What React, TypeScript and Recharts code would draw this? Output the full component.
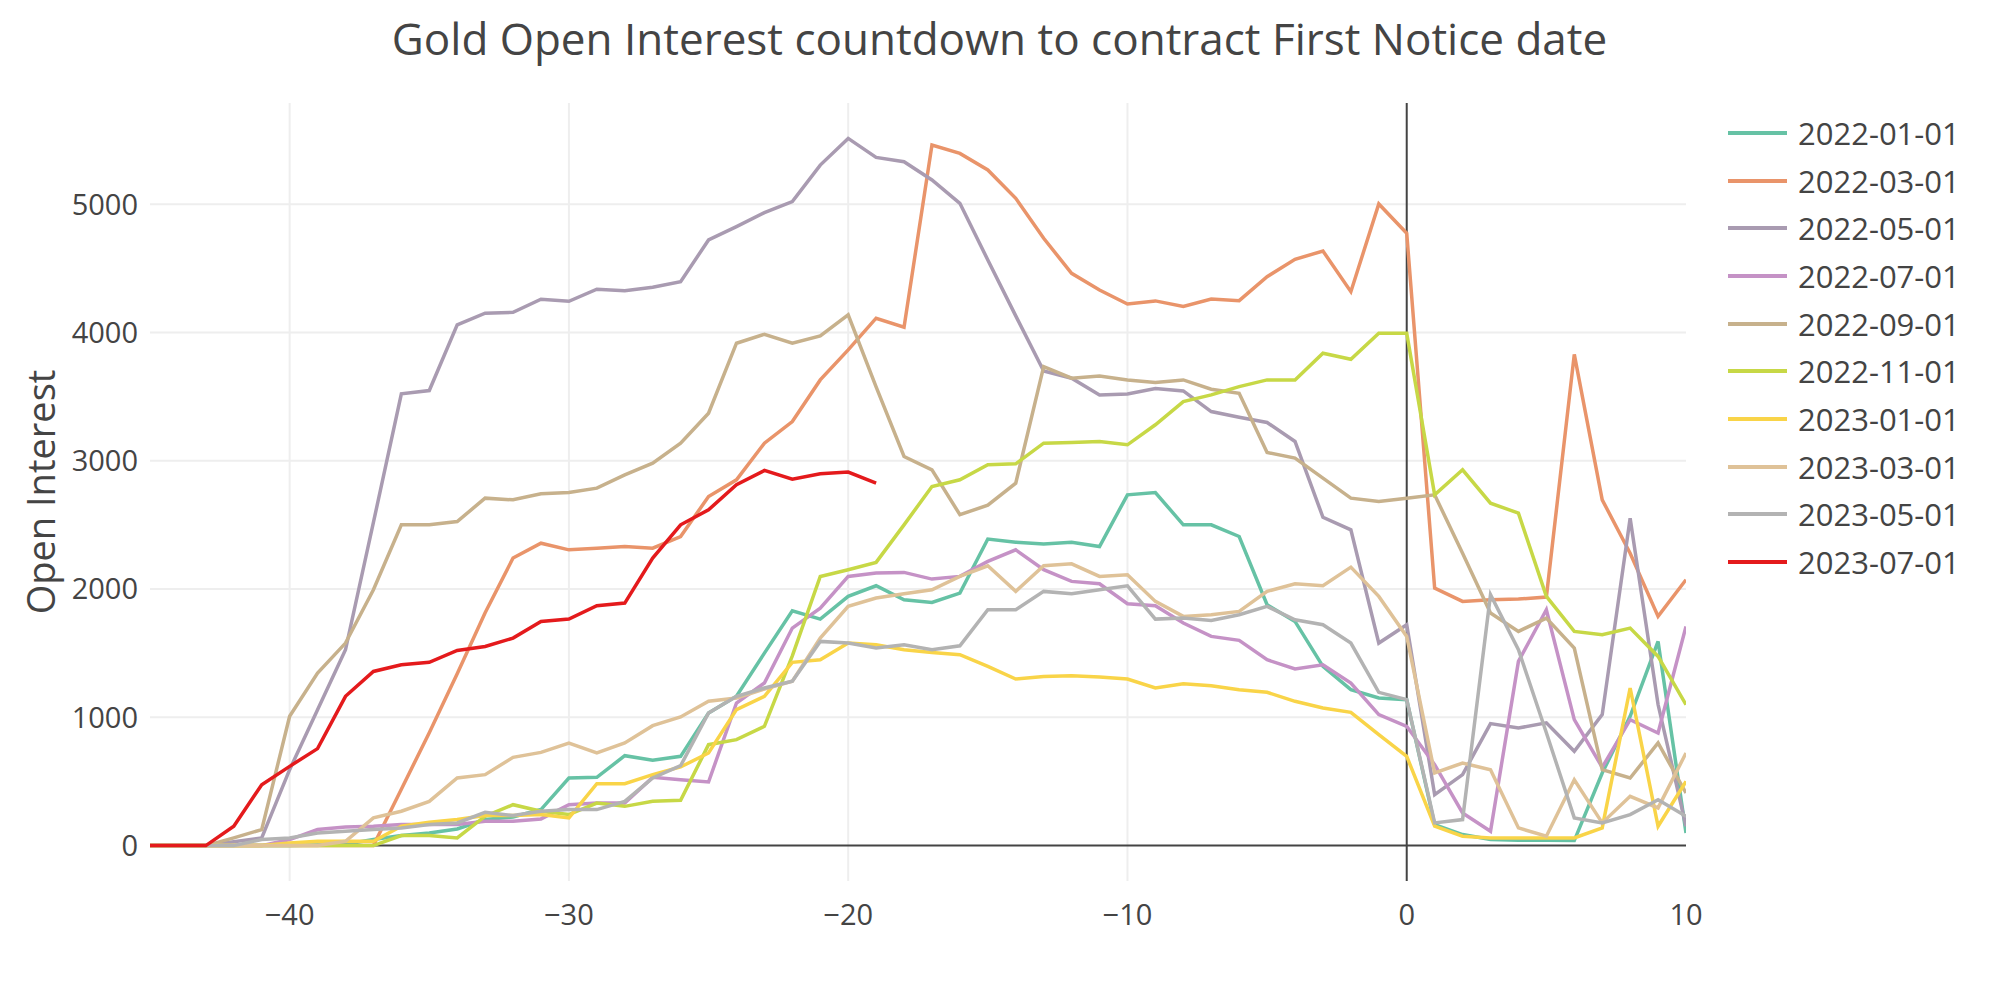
import { LineChart, Line, XAxis, YAxis, CartesianGrid, ReferenceLine } from 'recharts'

// days relative to First Notice date
const days = [
  -45, -44, -43, -42, -41, -40, -39, -38, -37, -36,
  -35, -34, -33, -32, -31, -30, -29, -28, -27, -26,
  -25, -24, -23, -22, -21, -20, -19, -18, -17, -16,
  -15, -14, -13, -12, -11, -10, -9, -8, -7, -6,
  -5, -4, -3, -2, -1, 0, 1, 2, 3, 4,
  5, 6, 7, 8, 9, 10,
]

const contracts = [
  '2022-01-01', '2022-03-01', '2022-05-01', '2022-07-01', '2022-09-01',
  '2022-11-01', '2023-01-01', '2023-03-01', '2023-05-01', '2023-07-01',
]

const COLORS = [
  '#66c2a5', '#e9946a', '#a99bb1', '#c592c6', '#c7b18c',
  '#c7d846', '#f9d448', '#dfc298', '#b3b3b3', '#e41a1c',
]

const jan22 = [
  0, 0, 0, 0, 0, 0, 5, 10, 47, 78,
  99, 130, 203, 223, 281, 527, 532, 701, 665, 696,
  1034, 1164, 1501, 1831, 1766, 1943, 2026, 1917, 1896, 1969,
  2390, 2366, 2351, 2366, 2332, 2735, 2753, 2501, 2501, 2410,
  1878, 1748, 1397, 1216, 1151, 1138, 164, 86, 47, 42,
  42, 39, 566, 1008, 1592, 99,
]
const mar22 = [
  0, 0, 0, 0, 0, 0, 0, 0, 0, 440,
  880, 1340, 1815, 2242, 2358, 2306, 2319, 2332, 2319, 2410,
  2722, 2852, 3138, 3306, 3631, 3865, 4112, 4042, 5462, 5397,
  5268, 5047, 4735, 4462, 4332, 4223, 4247, 4203, 4262, 4249,
  4436, 4571, 4636, 4319, 5003, 4774, 2008, 1904, 1917, 1922,
  1938, 3830, 2696, 2280, 1787, 2073,
]
const may22 = [
  0, 0, 0, 30, 60, 592, 1060, 1527, 2520, 3522,
  3548, 4060, 4151, 4158, 4260, 4244, 4338, 4327, 4353, 4397,
  4722, 4826, 4935, 5021, 5306, 5514, 5366, 5332, 5190, 5008,
  4566, 4130, 3700, 3644, 3514, 3522, 3564, 3545, 3384, 3340,
  3299, 3151, 2560, 2462, 1579, 1722, 397, 553, 951, 917,
  957, 735, 1021, 2553, 1100, 150,
]
const jul22 = [
  0, 0, 0, 0, 0, 47, 125, 145, 151, 164,
  164, 164, 190, 190, 208, 319, 332, 332, 532, 514,
  496, 1112, 1268, 1696, 1852, 2099, 2125, 2130, 2078, 2099,
  2216, 2306, 2151, 2060, 2042, 1886, 1870, 1735, 1631, 1600,
  1449, 1377, 1410, 1268, 1021, 930, 631, 255, 112, 1436,
  1839, 982, 610, 982, 878, 1709,
]
const sep22 = [
  0, 0, 0, 60, 125, 1008, 1345, 1579, 1995, 2501,
  2501, 2527, 2709, 2696, 2743, 2753, 2787, 2891, 2982, 3138,
  3371, 3917, 3987, 3917, 3974, 4138, 3577, 3034, 2930, 2580,
  2654, 2826, 3735, 3644, 3662, 3631, 3610, 3631, 3558, 3527,
  3065, 3021, 2865, 2709, 2683, 2709, 2735, 2280, 1813, 1670,
  1774, 1540, 592, 527, 800, 410,
]
const nov22 = [
  0, 0, 0, 0, 0, 0, 0, 0, 0, 78,
  78, 60, 229, 319, 268, 242, 332, 306, 345, 353,
  787, 826, 930, 1480, 2098, 2151, 2208, 2501, 2800, 2852,
  2969, 2977, 3138, 3143, 3151, 3125, 3281, 3462, 3514, 3579,
  3631, 3631, 3839, 3792, 3995, 3995, 2735, 2930, 2670, 2592,
  1943, 1670, 1644, 1696, 1475, 1099,
]
const jan23 = [
  0, 0, 0, 0, 0, 20, 34, 34, 34, 151,
  182, 203, 234, 234, 242, 216, 483, 483, 553, 613,
  722, 1060, 1164, 1429, 1449, 1579, 1566, 1527, 1506, 1488,
  1397, 1299, 1319, 1325, 1314, 1299, 1229, 1262, 1247, 1216,
  1195, 1125, 1073, 1039, 865, 696, 151, 73, 60, 60,
  60, 60, 138, 1229, 151, 501,
]
const mar23 = [
  0, 0, 0, 0, 0, 0, 0, 34, 216, 268,
  345, 527, 553, 688, 727, 800, 722, 800, 935, 1003,
  1125, 1151, 1221, 1281, 1618, 1865, 1930, 1964, 1995, 2099,
  2182, 1982, 2182, 2197, 2099, 2112, 1904, 1787, 1800, 1826,
  1982, 2042, 2026, 2171, 1943, 1631, 566, 644, 592, 138,
  73, 514, 177, 384, 294, 722,
]
const may23 = [
  0, 0, 0, 0, 47, 60, 99, 112, 125, 138,
  164, 177, 260, 234, 268, 281, 281, 345, 527, 623,
  1034, 1164, 1229, 1281, 1592, 1579, 1540, 1566, 1527, 1558,
  1839, 1839, 1982, 1964, 1995, 2026, 1766, 1774, 1756, 1800,
  1865, 1761, 1722, 1579, 1195, 1138, 177, 203, 1956, 1527,
  880, 216, 177, 242, 358, 229,
]
// current contract, only up to day -19
const jul23 = [
  0, 0, 0, 151, 475, 618, 756, 1164, 1358, 1410,
  1429, 1522, 1553, 1618, 1748, 1766, 1870, 1891, 2242, 2501,
  2618, 2813, 2925, 2857, 2899, 2912, 2826,
]

const seriesValues = [jan22, mar22, may22, jul22, sep22, nov22, jan23, mar23, may23, jul23]

const data = days.map((day, i) => {
  const row: Record<string, number | null> = { day }
  contracts.forEach((c, j) => {
    const v = seriesValues[j][i]
    row[c] = v === undefined ? null : v
  })
  return row
})

const FONT = '"Open Sans", "Noto Sans", sans-serif'
const TEXT = '#444'

function formatTick(v: number): string {
  return v < 0 ? `\u2212${Math.abs(v)}` : String(v)
}

export default function App() {
  return (
    <div style={{ position: 'absolute', left: 0, top: 0, width: 1999, height: 1000, background: '#fff', fontFamily: FONT }}>
      <div
        style={{
          position: 'absolute',
          top: 12,
          left: 0,
          width: 1999,
          textAlign: 'center',
          fontSize: 44,
          lineHeight: '52px',
          color: TEXT,
        }}
      >
        Gold Open Interest countdown to contract First Notice date
      </div>

      <LineChart width={1999} height={1000} data={data} margin={{ top: 103, right: 313, bottom: 0, left: 0 }}>
        <CartesianGrid
          stroke="#eeeeee"
          strokeWidth={2}
          verticalValues={[-40, -30, -20, -10]}
          horizontalValues={[1000, 2000, 3000, 4000, 5000]}
        />
        <XAxis
          dataKey="day"
          type="number"
          domain={[-45, 10]}
          ticks={[-40, -30, -20, -10, 0, 10]}
          allowDataOverflow
          height={119}
          axisLine={false}
          tickLine={false}
          tickMargin={17}
          tickFormatter={formatTick}
          tick={{ fontFamily: FONT, fontSize: 29, fill: TEXT }}
        />
        <YAxis
          type="number"
          domain={[-276, 5790]}
          ticks={[0, 1000, 2000, 3000, 4000, 5000]}
          allowDataOverflow
          width={150}
          axisLine={false}
          tickLine={false}
          tickMargin={6}
          tick={{ fontFamily: FONT, fontSize: 29, fill: TEXT }}
          label={{
            value: 'Open Interest',
            angle: -90,
            position: 'insideLeft',
            offset: 42,
            style: { textAnchor: 'middle', fontFamily: FONT, fontSize: 38, fill: TEXT },
          }}
        />
        <ReferenceLine y={0} stroke={TEXT} strokeWidth={2} />
        <ReferenceLine x={0} stroke={TEXT} strokeWidth={2} />
        {contracts.map((c, j) => (
          <Line
            key={c}
            type="linear"
            dataKey={c}
            stroke={COLORS[j]}
            strokeWidth={3.5}
            dot={false}
            activeDot={false}
            isAnimationActive={false}
          />
        ))}
      </LineChart>

      {/* Legend */}
      <div style={{ position: 'absolute', left: 1728, top: 109 }}>
        {contracts.map((c, j) => (
          <div key={c} style={{ display: 'flex', alignItems: 'center', height: 47.7 }}>
            <span style={{ display: 'inline-block', width: 59, height: 4, background: COLORS[j], marginRight: 11 }} />
            <span style={{ fontSize: 31, color: TEXT }}>{c}</span>
          </div>
        ))}
      </div>
    </div>
  )
}
